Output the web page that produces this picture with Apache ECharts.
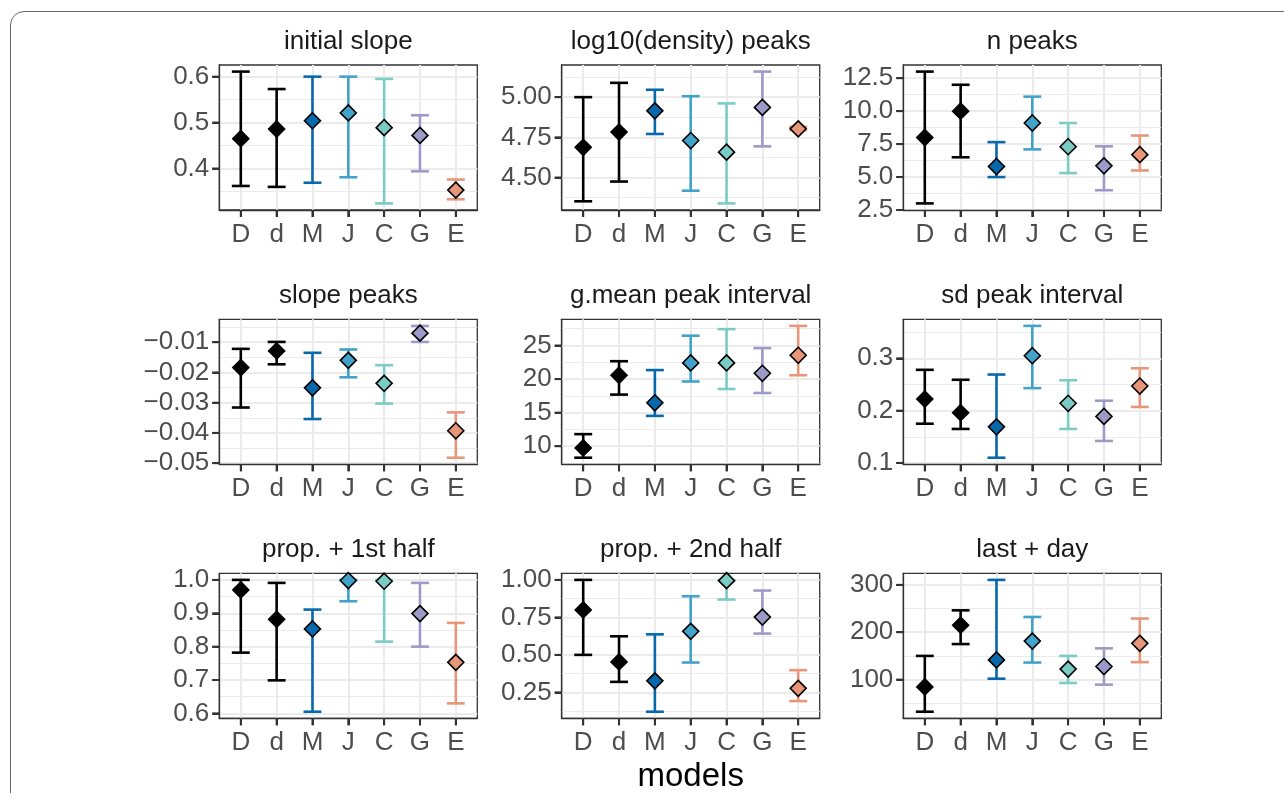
<!DOCTYPE html>
<html><head><meta charset="utf-8">
<script src="https://cdn.jsdelivr.net/npm/echarts@6/dist/echarts.min.js"></script>
<style>html,body{margin:0;padding:0;background:#fff;overflow:hidden}#wrap{position:relative;width:1284px;height:793px;overflow:hidden}#c{width:1284px;height:793px}#frame{position:absolute;left:10px;top:11px;width:1400px;height:900px;border:1.2px solid #666;border-radius:14px;pointer-events:none;box-sizing:border-box}</style>
</head><body><div id="wrap"><div id="c"></div><div id="frame"></div></div>
<script>
const categories = ['D','d','M','J','C','G','E'];
const modelColors = ['#000000','#000000','#0868AC','#43A2CA','#7BCCC4','#9E9AC8','#E8967A'];

const panelTitles = ['initial slope','log10(density) peaks','n peaks','slope peaks','g.mean peak interval','sd peak interval','prop. + 1st half','prop. + 2nd half','last + day'];

const initialSlopeMean = [0.465,0.486,0.504,0.521,0.489,0.472,0.353];
const initialSlopeLow  = [0.362,0.360,0.369,0.381,0.324,0.394,0.333];
const initialSlopeHigh = [0.611,0.573,0.600,0.600,0.595,0.516,0.376];
const initialSlopeTicks = [0.4,0.5,0.6];

const densityMean = [4.688,4.783,4.915,4.730,4.658,4.936,4.803];
const densityLow  = [4.352,4.475,4.771,4.418,4.339,4.694,4.795];
const densityHigh = [5.000,5.089,5.046,5.006,4.961,5.159,4.815];
const densityTicks = [4.50,4.75,5.00];

const nPeaksMean = [8.0,10.0,5.8,9.1,7.3,5.85,6.7];
const nPeaksLow  = [3.0,6.5,5.0,7.1,5.3,4.0,5.5];
const nPeaksHigh = [13.0,12.0,7.65,11.1,9.1,7.33,8.15];
const nPeaksTicks = [2.5,5.0,7.5,10.0,12.5];

const slopePeaksMean = [-0.0184,-0.0129,-0.0251,-0.0160,-0.0236,-0.0070,-0.0393];
const slopePeaksLow  = [-0.0316,-0.0173,-0.0354,-0.0216,-0.0303,-0.0099,-0.0482];
const slopePeaksHigh = [-0.0122,-0.0099,-0.0135,-0.0124,-0.0176,-0.0046,-0.0332];
const slopePeaksTicks = [-0.05,-0.04,-0.03,-0.02,-0.01];

const gMeanMean = [9.75,20.57,16.47,22.41,22.41,20.86,23.54];
const gMeanLow  = [8.29,17.69,14.52,19.64,18.52,17.93,20.57];
const gMeanHigh = [11.8,22.66,21.34,26.46,27.44,24.61,27.92];
const gMeanTicks = [10,15,20,25];

const sdIntervalMean = [0.222,0.196,0.169,0.305,0.214,0.189,0.247];
const sdIntervalLow  = [0.175,0.165,0.110,0.243,0.165,0.142,0.207];
const sdIntervalHigh = [0.278,0.259,0.269,0.362,0.258,0.219,0.281];
const sdIntervalTicks = [0.1,0.2,0.3];

const firstHalfMean = [0.970,0.882,0.853,0.998,0.996,0.899,0.753];
const firstHalfLow  = [0.782,0.699,0.605,0.936,0.815,0.800,0.630];
const firstHalfHigh = [1.0,0.991,0.911,1.0,1.0,0.991,0.871];
const firstHalfTicks = [0.6,0.7,0.8,0.9,1.0];

const secondHalfMean = [0.80,0.453,0.327,0.657,0.995,0.752,0.277];
const secondHalfLow  = [0.50,0.320,0.121,0.449,0.869,0.642,0.192];
const secondHalfHigh = [1.0,0.624,0.637,0.891,1.0,0.929,0.398];
const secondHalfTicks = [0.25,0.50,0.75,1.00];

const lastDayMean = [84.5,214.9,141.6,181.3,122.2,127.6,176.6];
const lastDayLow  = [32.2,175,101.9,136,92.9,89.3,136.8];
const lastDayHigh = [150,246.2,310.5,232.2,150,166,228.9];
const lastDayTicks = [100,200,300];

const panels = [
  {mean: initialSlopeMean, low: initialSlopeLow, high: initialSlopeHigh, ticks: initialSlopeTicks, dec: 1},
  {mean: densityMean, low: densityLow, high: densityHigh, ticks: densityTicks, dec: 2},
  {mean: nPeaksMean, low: nPeaksLow, high: nPeaksHigh, ticks: nPeaksTicks, dec: 1},
  {mean: slopePeaksMean, low: slopePeaksLow, high: slopePeaksHigh, ticks: slopePeaksTicks, dec: 2},
  {mean: gMeanMean, low: gMeanLow, high: gMeanHigh, ticks: gMeanTicks, dec: 0},
  {mean: sdIntervalMean, low: sdIntervalLow, high: sdIntervalHigh, ticks: sdIntervalTicks, dec: 1},
  {mean: firstHalfMean, low: firstHalfLow, high: firstHalfHigh, ticks: firstHalfTicks, dec: 1},
  {mean: secondHalfMean, low: secondHalfLow, high: secondHalfHigh, ticks: secondHalfTicks, dec: 2},
  {mean: lastDayMean, low: lastDayLow, high: lastDayHigh, ticks: lastDayTicks, dec: 0}
];

// layout
const colLefts = [219.3, 561.7, 903.3];
const rowTops = [65, 319.3, 573.3];
const PW = 258, PH = 145;
const X_MIN = -0.6, X_MAX = 6.6;
const TICK_LEN = 7;
const FONT = 'Liberation Sans, Arial, Helvetica, sans-serif';
const GRID_MAJOR = '#EBEBEB';
const DARK = '#333333';

const grids = [], xAxes = [], yAxes = [], series = [], titles = [];
const xIdx = categories.map((c, i) => i);
let yCount = 0;

panels.forEach((p, i) => {
  const col = i % 3, row = Math.floor(i / 3);
  const left = colLefts[col], top = rowTops[row];
  // ggplot-like 5% expansion
  const all = p.low.concat(p.high, p.mean);
  const lo = Math.min.apply(null, all), hi = Math.max.apply(null, all);
  const pad = (hi - lo) * 0.05;
  const ymin = lo - pad, ymax = hi + pad;
  const step = p.ticks[1] - p.ticks[0];
  const minors = [];
  for (let k = -1; k < p.ticks.length; k++) {
    const m = (k < 0 ? p.ticks[0] - step / 2 : p.ticks[k] + step / 2);
    if (m > ymin && m < ymax) minors.push(+m.toFixed(6));
  }

  grids.push({left: left, top: top, width: PW, height: PH, show: true,
    borderColor: DARK, borderWidth: 1.3, backgroundColor: 'transparent', containLabel: false, outerBoundsMode: 'none'});

  xAxes.push({
    type: 'value', gridIndex: i, min: X_MIN, max: X_MAX, position: 'bottom',
    axisLine: {show: true, onZero: false, lineStyle: {color: DARK, width: 1.3}},
    axisTick: {show: true, customValues: xIdx, length: TICK_LEN, lineStyle: {color: DARK, width: 2}},
    axisLabel: {show: true, customValues: xIdx, margin: 12, color: '#4D4D4D', fontSize: 26, fontFamily: FONT,
      formatter: v => categories[Math.round(v)]},
    splitLine: {show: true, lineStyle: {color: GRID_MAJOR, width: 2}}
  });

  const majorIndex = yCount;
  yAxes.push({
    type: 'value', gridIndex: i, min: ymin, max: ymax, position: 'left',
    axisLine: {show: true, onZero: false, lineStyle: {color: DARK, width: 1.3}},
    axisTick: {show: true, customValues: p.ticks, length: TICK_LEN, lineStyle: {color: DARK, width: 2}},
    axisLabel: {show: true, customValues: p.ticks, margin: 10, color: '#4D4D4D', fontSize: 26, fontFamily: FONT,
      formatter: v => Number(v).toFixed(p.dec).replace('-', '\u2212')},
    splitLine: {show: true, lineStyle: {color: GRID_MAJOR, width: 2}}
  });
  yAxes.push({
    type: 'value', gridIndex: i, min: ymin, max: ymax, position: 'left',
    axisLine: {show: false, onZero: false},
    axisTick: {show: false, customValues: minors},
    axisLabel: {show: false, customValues: minors},
    splitLine: {show: true, lineStyle: {color: GRID_MAJOR, width: 1}}
  });
  yCount += 2;

  // axis ticks outside the panel, placed through the axis scales
  series.push({
    type: 'custom', xAxisIndex: i, yAxisIndex: majorIndex, z: 5, silent: true, clip: false,
    data: xIdx.map(k => [k, ymin]),
    renderItem: function (params, api) {
      const c = api.coord([api.value(0), api.value(1)]);
      return {type: 'line', shape: {x1: c[0], y1: c[1], x2: c[0], y2: c[1] + TICK_LEN},
        style: {stroke: DARK, lineWidth: 2}};
    }
  });
  series.push({
    type: 'custom', xAxisIndex: i, yAxisIndex: majorIndex, z: 5, silent: true, clip: false,
    data: p.ticks.map(v => [X_MIN, v]),
    renderItem: function (params, api) {
      const c = api.coord([api.value(0), api.value(1)]);
      return {type: 'line', shape: {x1: c[0] - TICK_LEN, y1: c[1], x2: c[0], y2: c[1]},
        style: {stroke: DARK, lineWidth: 2}};
    }
  });

  const barData = p.mean.map((v, k) => [k, p.low[k], p.high[k]]);
  series.push({
    type: 'custom', xAxisIndex: i, yAxisIndex: majorIndex, data: barData, z: 3,
    encode: {x: 0, y: [1, 2]},
    renderItem: function (params, api) {
      const x = api.value(0);
      const a = api.coord([x, api.value(1)]);
      const b = api.coord([x, api.value(2)]);
      const half = api.size([0.25, 0])[0];
      const color = modelColors[x];
      const st = {stroke: color, lineWidth: 2.6, fill: null};
      return {type: 'group', children: [
        {type: 'line', shape: {x1: a[0], y1: a[1], x2: b[0], y2: b[1]}, style: st},
        {type: 'line', shape: {x1: a[0] - half, y1: a[1], x2: a[0] + half, y2: a[1]}, style: st},
        {type: 'line', shape: {x1: b[0] - half, y1: b[1], x2: b[0] + half, y2: b[1]}, style: st}
      ]};
    }
  });
  series.push({
    type: 'scatter', xAxisIndex: i, yAxisIndex: majorIndex, z: 4,
    data: p.mean.map((v, k) => [k, v]),
    symbol: 'diamond', symbolSize: [16, 16],
    itemStyle: {color: params => modelColors[params.dataIndex], borderColor: '#000', borderWidth: 1.6, opacity: 1},
    emphasis: {disabled: true}
  });

  titles.push({
    text: panelTitles[i], left: left + PW / 2, top: top - 36, textAlign: 'center', padding: 0,
    textStyle: {fontSize: 26, fontWeight: 'normal', color: '#1A1A1A', fontFamily: FONT}
  });
});

titles.push({
  text: 'models', left: colLefts[1] + PW / 2, top: 760, textAlign: 'center', padding: 0,
  textStyle: {fontSize: 33, fontWeight: 'normal', color: '#000', fontFamily: FONT}
});

const chart = echarts.init(document.getElementById('c'), null, {renderer: 'canvas'});
chart.setOption({
  animation: false,
  title: titles,
  grid: grids,
  xAxis: xAxes,
  yAxis: yAxes,
  series: series
});
</script></body></html>
